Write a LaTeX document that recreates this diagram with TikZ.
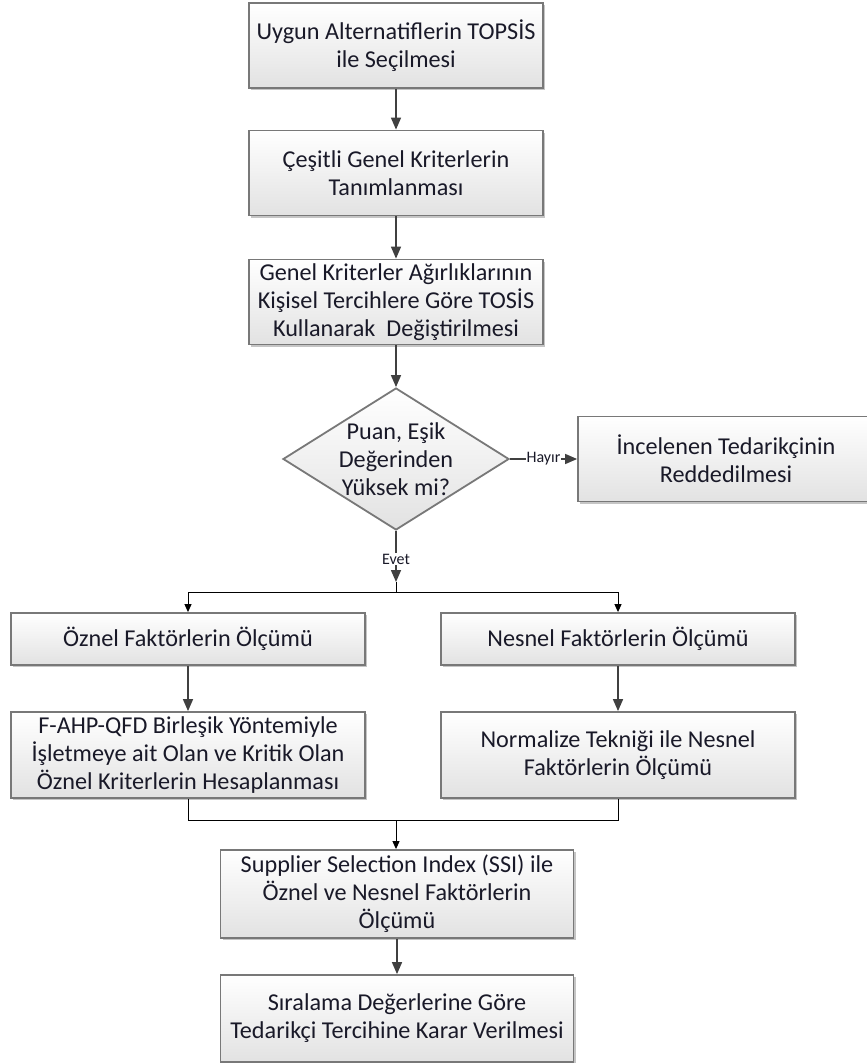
\documentclass[tikz,border=0pt]{standalone}
\usepackage{fontspec}
\setmainfont{Carlito}
\usepackage{xcolor}
\definecolor{boxline}{RGB}{120,120,120}
\definecolor{arrowgray}{RGB}{64,64,64}
\definecolor{shadegray}{RGB}{226,226,226}
\definecolor{txtdark}{RGB}{25,25,40}
\usepackage{tikz}
\usetikzlibrary{arrows.meta, positioning, shapes.geometric, shadows}

\tikzset{
  procbox/.style={draw=boxline, line width=0.9pt, top color=white, bottom color=shadegray,
    drop shadow={shadow xshift=1.2pt, shadow yshift=-1.2pt, fill=black!45, opacity=0.5},
    align=center, text=txtdark, font=\fontsize{12.1}{14}\selectfont, inner sep=2pt},
  wide/.style={procbox, minimum width=147pt, minimum height=42.5pt},
  half/.style={procbox, minimum width=177pt, minimum height=26pt},
  halftall/.style={procbox, minimum width=177pt, minimum height=43pt},
  decision/.style={diamond, draw=boxline, line width=0.9pt, top color=white, bottom color=shadegray,
    minimum width=113pt, minimum height=71pt, inner sep=0pt},
  dectext/.style={align=center, text=txtdark, font=\fontsize{12.1}{14}\selectfont},
  lbl/.style={fill=white, inner sep=0.5pt, text=txtdark, font=\fontsize{8}{9}\selectfont},
  flow/.style={draw=arrowgray, line width=0.75pt, -{Triangle[length=6pt, width=5pt]}},
  flowsm/.style={draw=black, line width=0.5pt, -{Triangle[length=4pt, width=3.5pt]}},
  plain/.style={draw=black, line width=0.5pt}
}

\begin{document}
\begin{tikzpicture}[x=0.5pt, y=-0.5pt]
  \useasboundingbox[fill=white] (0,0) rectangle (866,1063);

  % main column
  \node[wide] (topsis) at (396,45.5) {Uygun Alternatiflerin TOPSİS\\ile Seçilmesi};
  \node[wide] (tanim) at (396,173) {Çeşitli Genel Kriterlerin\\Tanımlanması};
  \node[wide] (agirlik) at (396,302) {Genel Kriterler Ağırlıklarının\\Kişisel Tercihlere Göre TOSİS\\Kullanarak~ Değiştirilmesi};
  \node[decision] (karar) at (396,459) {};
  \node[dectext] (karartxt) at (karar.center) {Puan, Eşik\\Değerinden\\Yüksek mi?};
  \node[wide, minimum width=148pt] (red) at (726,459) {İncelenen Tedarikçinin\\Reddedilmesi};

  % two branches
  \node[half] (oznel) at (188,639) {Öznel Faktörlerin Ölçümü};
  \node[half] (nesnel) at (618,639) {Nesnel Faktörlerin Ölçümü};
  \node[halftall] (fahp) at (188,755) {F-AHP-QFD Birleşik Yöntemiyle\\İşletmeye ait Olan ve Kritik Olan\\Öznel Kriterlerin Hesaplanması};
  \node[halftall] (norm) at (618,755) {Normalize Tekniği ile Nesnel\\Faktörlerin Ölçümü};

  % bottom
  \node[procbox, minimum width=176.5pt, minimum height=44pt] (ssi) at (397,894) {Supplier Selection Index (SSI) ile\\Öznel ve Nesnel Faktörlerin\\Ölçümü};
  \node[procbox, minimum width=176.5pt, minimum height=43.5pt] (sira) at (397,1018.5) {Sıralama Değerlerine Göre\\Tedarikçi Tercihine Karar Verilmesi};

  \coordinate (evetuc) at (396,582);
  \coordinate (ayrim) at (396,592);
  \coordinate (birles) at (396,820);

  \draw[flow] (topsis) -- (tanim);
  \draw[flow] (tanim) -- (agirlik);
  \draw[flow] (agirlik) -- (karar);
  \draw[flow] (karar.east) -- node[lbl] {Hayır} (karar.east -| red.west);
  \draw[flow] (karar.south) -- node[lbl, pos=0.55] {Evet} (evetuc);
  \draw[plain] (evetuc) -- (ayrim);
  \draw[flowsm] (ayrim) -| (oznel.north);
  \draw[flowsm] (ayrim) -| (nesnel.north);
  \draw[flow] (oznel) -- (fahp);
  \draw[flow] (nesnel) -- (norm);
  \draw[plain] (fahp.south) |- (birles);
  \draw[plain] (norm.south) |- (birles);
  \draw[flowsm] (birles) -- (birles |- ssi.north);
  \draw[flow] (ssi) -- (sira);
\end{tikzpicture}
\end{document}
